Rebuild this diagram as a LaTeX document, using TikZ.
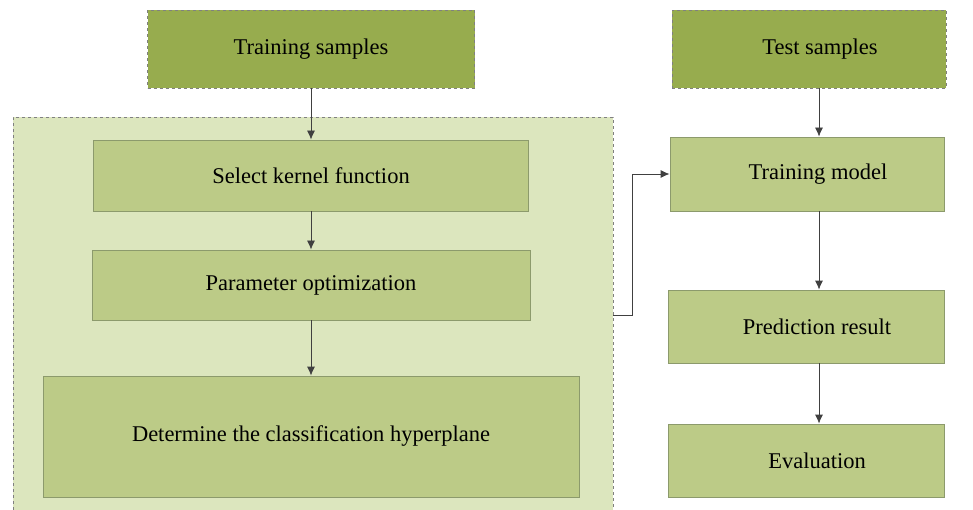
\documentclass[tikz,border=0pt]{standalone}
\usepackage{fontspec}
\setmainfont{Liberation Serif}
\usetikzlibrary{arrows.meta}

\definecolor{darkgreen}{HTML}{97AC4E}
\definecolor{midgreen}{HTML}{BCCB87}
\definecolor{palegreen}{HTML}{DCE6BE}
\definecolor{boxline}{HTML}{8C9A6C}

\begin{document}
\begin{tikzpicture}[x=1pt,y=-1pt,
  every node/.style={font=\fontsize{22.5}{27}\selectfont, text=black},
  topbox/.style={draw=gray, dashed, line width=0.7pt, fill=darkgreen},
  stepbox/.style={draw=boxline, line width=0.8pt, fill=midgreen},
  frame/.style={draw=gray, dashed, line width=0.7pt, fill=palegreen},
  rtext/.style={execute at begin node=\hspace*{22pt}},
  arr/.style={draw=black!75, line width=0.8pt, -{Latex[length=9pt,width=8pt]}}]
\useasboundingbox (0,0) rectangle (973,510);
% left column
\node[frame, minimum width=600pt, minimum height=396pt] (frame) at (313,315) {};
\node[topbox, minimum width=327pt, minimum height=78pt] (train) at (311,49) {Training samples};
\node[stepbox, minimum width=435pt, minimum height=71pt] (kernel) at (311,175.5) {Select kernel function};
\node[stepbox, minimum width=438pt, minimum height=70pt] (param) at (311,285) {Parameter optimization};
\node[stepbox, minimum width=536pt, minimum height=121pt] (hyper) at (311,436.5) {Determine the classification hyperplane};
% right column
\node[topbox, rtext, minimum width=274pt, minimum height=78pt] (test) at (809,49) {Test samples};
\node[stepbox, rtext, minimum width=274pt, minimum height=74pt] (model) at (807,174) {Training model};
\node[stepbox, rtext, minimum width=276pt, minimum height=73pt] (pred) at (806,326.5) {Prediction result};
\node[stepbox, rtext, minimum width=276pt, minimum height=73pt] (eval) at (806,460.5) {Evaluation};
% arrows
\draw[arr] (train) -- (kernel);
\draw[arr] (kernel) -- (param);
\draw[arr] (param) -- (hyper);
\draw[arr] (frame.east) -- ++(19,0) |- (model.west);
\draw[arr] ([xshift=12]model.north |- test.south) -- ([xshift=12]model.north);
\draw[arr] ([xshift=13]pred.north |- model.south) -- ([xshift=13]pred.north);
\draw[arr] ([xshift=13]pred.south) -- ([xshift=13]eval.north);
\end{tikzpicture}
\end{document}
